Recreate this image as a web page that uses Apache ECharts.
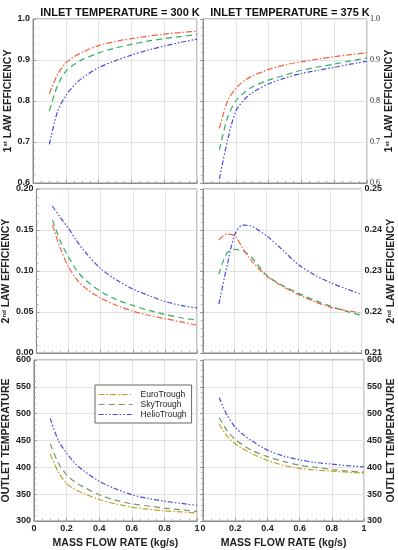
<!DOCTYPE html>
<html><head><meta charset="utf-8">
<script src="https://cdn.jsdelivr.net/npm/echarts@6/dist/echarts.min.js"></script>
<style>html,body{margin:0;padding:0;background:#fff}#c{width:398px;height:550px}</style>
</head><body><div id="c"></div>
<script>
const flowRate = [0.1,0.15,0.2,0.25,0.3,0.4,0.5,0.6,0.7,0.8,0.9,1.0];
const seriesNames = ['EuroTrough','SkyTrough','HelioTrough'];
const xTicks = [0,0.2,0.4,0.6,0.8,1];
// 1st law efficiency
const eff1_300_euro  = [0.818,0.865,0.893,0.908,0.919,0.935,0.945,0.952,0.958,0.963,0.967,0.970];
const eff1_300_sky   = [0.776,0.838,0.872,0.889,0.901,0.917,0.929,0.938,0.946,0.952,0.957,0.962];
const eff1_300_helio = [0.694,0.775,0.813,0.838,0.856,0.881,0.898,0.912,0.924,0.934,0.943,0.951];
const eff1_375_euro  = [0.733,0.800,0.831,0.849,0.861,0.877,0.888,0.896,0.902,0.908,0.913,0.918];
const eff1_375_sky   = [0.681,0.760,0.800,0.820,0.834,0.851,0.863,0.875,0.883,0.890,0.898,0.905];
const eff1_375_helio = [0.610,0.705,0.775,0.803,0.820,0.842,0.856,0.867,0.875,0.882,0.890,0.897];
// 2nd law efficiency
const eff2_300_euro  = [0.156,0.127,0.105,0.090,0.080,0.067,0.058,0.051,0.046,0.042,0.038,0.034];
const eff2_300_sky   = [0.162,0.136,0.117,0.101,0.090,0.075,0.065,0.058,0.052,0.047,0.043,0.040];
const eff2_300_helio = [0.179,0.165,0.152,0.137,0.124,0.103,0.089,0.078,0.070,0.063,0.058,0.055];
const eff2_375_euro  = [0.2376,0.2390,0.2386,0.2356,0.2328,0.2288,0.2263,0.2243,0.2226,0.2212,0.2204,0.2198];
const eff2_375_sky   = [0.2292,0.2343,0.2353,0.2349,0.2336,0.2290,0.2265,0.2246,0.2229,0.2215,0.2202,0.2192];
const eff2_375_helio = [0.2219,0.2310,0.2388,0.2412,0.2410,0.2386,0.2352,0.2316,0.2291,0.2272,0.2257,0.2243];
// outlet temperature
const tout_300_euro  = [425,391,370,359,352,340,332,326,322,319,317,315];
const tout_300_sky   = [444,408,386,373,364,349,339,332,328,324,321,318];
const tout_300_helio = [491,450,427,408,395,374,360,349,342,337,333,329];
const tout_375_euro  = [481,458,444,434,426,413,404,398,395,393,391,389];
const tout_375_sky   = [493,468,452,441,432,420,411,404,400,396,393,391];
const tout_375_helio = [530,497,475,461,450,432,421,414,409,406,403,401];

const FONT = 'Liberation Sans';
const topColors = ['#f0623f','#2fae62','#4a48dc'];
const botColors = ['#c2a11e','#6f9a72','#4a48dc'];
const dashes = [[6,2,1.5,2],[6,4],[5,2,1.5,2,1.5,2]];

const L = 33, R = 203, W = 164;
const rows = [{top:19,h:164},{top:189,h:164},{top:360,h:163}];
const grids = [];
for (let r=0;r<3;r++) for (let c=0;c<2;c++)
  grids.push({left:c?R:L, top:rows[r].top, width:W, height:rows[r].h, show:true, borderColor:'#8a8a8a', borderWidth:1, backgroundColor:'#fff'});

function xAxis(i, bottom){
  return {type:'value', gridIndex:i, min:0, max:1, interval:0.2,
    axisLine:{show:true, lineStyle:{color:'#8a8a8a'}},
    axisTick:{show:true, inside:true, length:3, lineStyle:{color:'#999'}},
    minorTick:{show:true, splitNumber:4, length:2, lineStyle:{color:'#aaa'}},
    splitLine:{show:true, lineStyle:{color:'#e2e2e2'}},
    axisLabel:{show:bottom, color:'#222', fontFamily:FONT, fontWeight:'bold', fontSize:9, margin:3},
    name: bottom ? 'MASS FLOW RATE (kg/s)' : '', nameLocation:'middle', nameGap:17,
    nameTextStyle:{color:'#222', fontFamily:FONT, fontWeight:'bold', fontSize:10.5}};
}
const supRich = {sup:{fontSize:6, fontFamily:FONT, fontWeight:'bold', color:'#222', padding:[0,0,5,0]}};
function yAxis(i, right, min, max, interval, dec, name, serif){
  return {type:'value', gridIndex:i, min:min, max:max, interval:interval, position: right?'right':'left',
    axisLine:{show:true, lineStyle:{color:'#8a8a8a'}},
    axisTick:{show:true, inside:true, length:3, lineStyle:{color:'#999'}},
    minorTick:{show:true, splitNumber:5, length:2, lineStyle:{color:'#aaa'}},
    splitLine:{show:true, lineStyle:{color:'#e2e2e2'}},
    axisLabel:{color:'#222', fontFamily: serif?'Liberation Serif':FONT, fontWeight: serif?'normal':'bold', fontSize: serif?8:9, margin:3,
      formatter:v=>v.toFixed(dec)},
    name:name, nameLocation:'middle', nameGap: right?17:18, nameRotate:90,
    nameTextStyle:{color:'#222', fontFamily:FONT, fontWeight:'bold', fontSize:10.5, rich:supRich}};
}
const xAxes = [], yAxes = [];
for (let i=0;i<6;i++) xAxes.push(xAxis(i, i>=4));
yAxes.push(yAxis(0,false,0.6,1.0,0.1,1,'1{sup|st} LAW EFFICIENCY'));
yAxes.push(yAxis(1,true,0.6,1.0,0.1,1,'1{sup|st} LAW EFFICIENCY',true));
yAxes.push(yAxis(2,false,0,0.2,0.05,2,'2{sup|nd} LAW EFFICIENCY'));
yAxes.push(yAxis(3,true,0.21,0.25,0.01,2,'2{sup|nd} LAW EFFICIENCY'));
yAxes.push(yAxis(4,false,300,600,50,0,'OUTLET TEMPERATURE'));
yAxes.push(yAxis(5,true,300,600,50,0,'OUTLET TEMPERATURE'));

const panels = [
  [eff1_300_euro,eff1_300_sky,eff1_300_helio],
  [eff1_375_euro,eff1_375_sky,eff1_375_helio],
  [eff2_300_euro,eff2_300_sky,eff2_300_helio],
  [eff2_375_euro,eff2_375_sky,eff2_375_helio],
  [tout_300_euro,tout_300_sky,tout_300_helio],
  [tout_375_euro,tout_375_sky,tout_375_helio]
];
const series = [];
panels.forEach((p,i)=>{
  const cols = i>=4 ? botColors : topColors;
  p.forEach((vals,k)=>{
    series.push({type:'line', name:seriesNames[k], xAxisIndex:i, yAxisIndex:i, smooth:0.3, symbol:'none',
      data: flowRate.map((x,j)=>[x, vals[j]]),
      lineStyle:{color:cols[k], width:1.2, type:dashes[k]}, itemStyle:{color:cols[k]}, z: 3-k});
  });
});

const chart = echarts.init(document.getElementById('c'), null, {renderer:'canvas'});
chart.setOption({
  animation:false,
  title:[
    {text:'INLET TEMPERATURE = 300 K', left:115, top:2, textAlign:'center', textStyle:{fontFamily:FONT, fontWeight:'bold', fontSize:11, color:'#111'}},
    {text:'INLET TEMPERATURE = 375 K', left:285, top:2, textAlign:'center', textStyle:{fontFamily:FONT, fontWeight:'bold', fontSize:11, color:'#111'}}
  ],
  grid:grids, xAxis:xAxes, yAxis:yAxes, series:series,
  legend:{orient:'vertical', left:95, top:385, backgroundColor:'#fff', borderColor:'#666', borderWidth:1,
    padding:[5,5,4,3], itemGap:1, itemWidth:34, itemHeight:8,
    textStyle:{fontFamily:FONT, fontSize:8.5, color:'#222', padding:[0,0,0,3]},
    data: seriesNames.map((n,k)=>({name:n, itemStyle:{opacity:0}, lineStyle:{color:botColors[k], type:dashes[k], width:1.2, opacity:1}}))}
});
</script></body></html>
